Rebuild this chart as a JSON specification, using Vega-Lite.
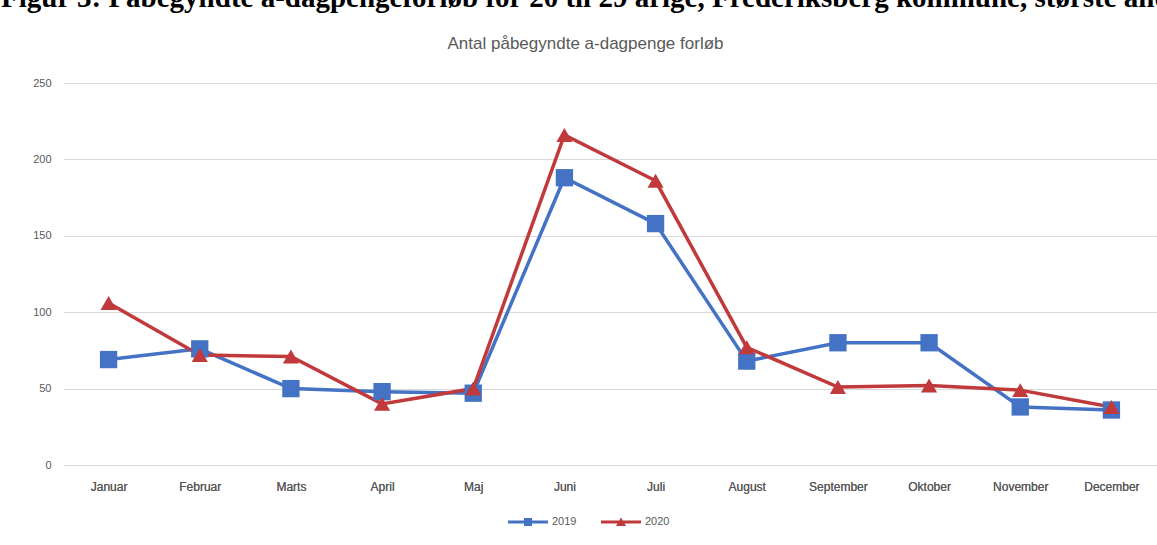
{
  "$schema": "https://vega.github.io/schema/vega-lite/v6.json",
  "width": 1094,
  "height": 382,
  "autosize": {"type": "none"},
  "padding": {"left": 63, "top": 83, "right": 0, "bottom": 80},
  "background": "white",
  "config": {"view": {"stroke": null}},
  "title": {
    "text": "Figur 3: Påbegyndte a-dagpengeforløb for 20 til 29 årige, Frederiksberg kommune, største andel",
    "anchor": "start",
    "frame": "group",
    "dx": -62,
    "dy": 24,
    "offset": 22,
    "baseline": "alphabetic",
    "font": "Liberation Serif",
    "fontSize": 29,
    "fontWeight": "bold",
    "color": "#000000"
  },
  "data": {
    "values": [
      {"month": "Januar", "year": "2019", "value": 69},
      {"month": "Februar", "year": "2019", "value": 76},
      {"month": "Marts", "year": "2019", "value": 50},
      {"month": "April", "year": "2019", "value": 48},
      {"month": "Maj", "year": "2019", "value": 47},
      {"month": "Juni", "year": "2019", "value": 188},
      {"month": "Juli", "year": "2019", "value": 158},
      {"month": "August", "year": "2019", "value": 68},
      {"month": "September", "year": "2019", "value": 80},
      {"month": "Oktober", "year": "2019", "value": 80},
      {"month": "November", "year": "2019", "value": 38},
      {"month": "December", "year": "2019", "value": 36},
      {"month": "Januar", "year": "2020", "value": 106},
      {"month": "Februar", "year": "2020", "value": 72},
      {"month": "Marts", "year": "2020", "value": 71},
      {"month": "April", "year": "2020", "value": 40},
      {"month": "Maj", "year": "2020", "value": 50},
      {"month": "Juni", "year": "2020", "value": 216},
      {"month": "Juli", "year": "2020", "value": 186},
      {"month": "August", "year": "2020", "value": 77},
      {"month": "September", "year": "2020", "value": 51},
      {"month": "Oktober", "year": "2020", "value": 52},
      {"month": "November", "year": "2020", "value": 49},
      {"month": "December", "year": "2020", "value": 38}
    ]
  },
  "encoding": {
    "x": {
      "field": "month",
      "type": "ordinal",
      "sort": ["Januar", "Februar", "Marts", "April", "Maj", "Juni", "Juli", "August", "September", "Oktober", "November", "December"],
      "scale": {"type": "point", "padding": 0.5},
      "axis": {
        "title": null,
        "labelAngle": 0,
        "ticks": false,
        "domain": false,
        "grid": false,
        "labelPadding": 16,
        "labelFont": "Liberation Sans",
        "labelFontSize": 12,
        "labelColor": "#595959"
      }
    },
    "y": {
      "field": "value",
      "type": "quantitative",
      "scale": {"domain": [0, 250], "nice": false},
      "axis": {
        "title": null,
        "values": [0, 50, 100, 150, 200, 250],
        "ticks": false,
        "domain": false,
        "grid": true,
        "gridColor": "#d9d9d9",
        "gridWidth": 1,
        "labelPadding": 12,
        "labelFont": "Liberation Sans",
        "labelFontSize": 11,
        "labelColor": "#595959"
      }
    }
  },
  "layer": [
    {
      "mark": {"type": "line", "strokeWidth": 3.5},
      "encoding": {
        "stroke": {
          "field": "year",
          "type": "nominal",
          "scale": {"domain": ["2019", "2020"], "range": ["#4472C4", "#C0393B"]},
          "legend": {
            "title": null,
            "orient": "none",
            "direction": "horizontal",
            "legendX": 455,
            "legendY": 429,
            "symbolSize": 400,
            "labelOffset": 14,
            "columnPadding": 24,
            "labelFont": "Liberation Sans",
            "labelFontSize": 11,
            "labelColor": "#595959",
            "encode": {
              "symbols": {
                "update": {
                  "shape": {"signal": "datum.value === '2019' ? 'M-2,-0.15 L2,-0.15 L2,0.15 L-2,0.15 Z M-0.4,-0.4 L0.4,-0.4 L0.4,0.4 L-0.4,0.4 Z' : 'M-2,-0.15 L2,-0.15 L2,0.15 L-2,0.15 Z M0,-0.45 L0.5,0.4 L-0.5,0.4 Z'"},
                  "fill": {"signal": "datum.value === '2019' ? '#4472C4' : '#C0393B'"},
                  "fillOpacity": {"value": 1},
                  "strokeWidth": {"value": 0}
                }
              }
            }
          }
        }
      }
    },
    {
      "transform": [{"filter": "datum.year === '2019'"}],
      "mark": {"type": "point", "filled": true, "opacity": 1, "shape": "square", "size": 300, "color": "#4472C4"},
      "encoding": {
        "x": {
          "field": "month",
          "type": "ordinal",
          "sort": ["Januar", "Februar", "Marts", "April", "Maj", "Juni", "Juli", "August", "September", "Oktober", "November", "December"],
          "scale": {"type": "point", "padding": 0.5},
          "axis": {
            "orient": "top",
            "title": "Antal påbegyndte a-dagpenge forløb",
            "titleFont": "Liberation Sans",
            "titleFontSize": 17,
            "titleFontWeight": "normal",
            "titleColor": "#595959",
            "titlePadding": 31,
            "titleX": 522,
            "labels": false,
            "ticks": false,
            "domain": false,
            "grid": false
          }
        }
      }
    },
    {
      "transform": [{"filter": "datum.year === '2020'"}],
      "mark": {"type": "point", "filled": true, "opacity": 1, "shape": "triangle-up", "size": 260, "color": "#C0393B"}
    }
  ],
  "resolve": {"axis": {"x": "independent"}}
}
